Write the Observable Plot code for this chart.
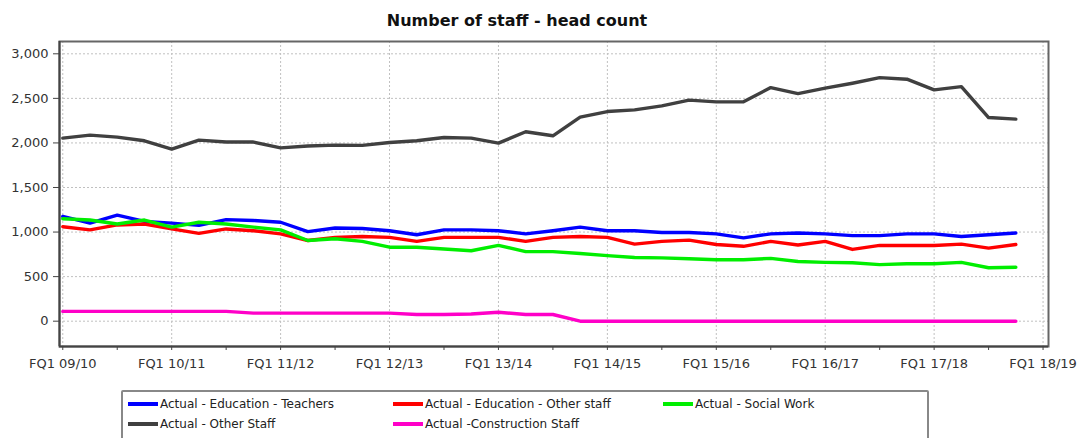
<!DOCTYPE html>
<html><head><meta charset="utf-8">
<script src="https://cdn.jsdelivr.net/npm/d3@7"></script>
<script src="https://cdn.jsdelivr.net/npm/@observablehq/plot@0.6"></script>
<style>
body{margin:0;background:#fff;font-family:"DejaVu Sans",sans-serif;}
#wrap{position:relative;width:1084px;height:438px;overflow:hidden;background:#fff;}
#title{position:absolute;top:11px;left:0;width:1034px;text-align:center;font-weight:bold;font-size:16px;color:#111;}
#chart{position:absolute;top:0;left:0;}
#legend{position:absolute;left:121px;top:390px;width:804px;height:60px;border:2px solid #888;border-radius:2px;}
.item{position:absolute;font-size:12px;color:#222;display:flex;align-items:center;white-space:nowrap;height:16px;}
.sw{width:30px;height:4px;margin-right:2px;}
</style></head><body>
<div id="wrap">
<div id="title">Number of staff - head count</div>
<div id="chart"></div>
<div id="legend"></div>
</div>
<script>
const years = ["09/10","10/11","11/12","12/13","13/14","14/15","15/16","16/17","17/18","18/19"];
const tickLabels = years.map(y => "FQ1 " + y);
const yTicks = [0, 500, 1000, 1500, 2000, 2500, 3000];

const seriesNames = [
  "Actual - Education - Teachers",
  "Actual - Education - Other staff",
  "Actual - Social Work",
  "Actual - Other Staff",
  "Actual -Construction Staff"
];
const seriesColors = ["#0000ff", "#ff0000", "#00ee00", "#404040", "#ff00c8"];

// quarterly values, FQ1 09/10 .. FQ4 17/18
const teachers = [1175,1100,1190,1120,1100,1075,1140,1130,1110,1005,1045,1040,1015,970,1025,1025,1015,980,1015,1055,1015,1015,995,995,980,935,980,990,980,960,960,980,980,950,970,990];
const eduOther = [1060,1025,1080,1090,1035,985,1035,1015,980,905,940,950,940,895,940,940,940,895,940,950,940,865,895,910,860,840,895,855,895,805,850,850,850,865,820,860];
const socialWork = [1150,1135,1090,1135,1055,1110,1090,1055,1025,905,925,895,830,830,810,790,850,780,780,760,735,715,710,700,690,690,705,670,660,655,635,645,645,660,600,605];
const otherStaff = [2054,2088,2065,2024,1930,2032,2010,2010,1945,1965,1975,1972,2005,2024,2061,2054,1998,2125,2080,2290,2352,2371,2416,2480,2461,2461,2621,2554,2614,2670,2733,2715,2595,2632,2285,2267];
const construction = [110,110,110,110,110,110,110,90,90,90,90,90,90,75,75,80,100,75,75,0,0,0,0,0,0,0,0,0,0,0,0,0,0,0,0,0];

const seriesValues = [teachers, eduOther, socialWork, otherStaff, construction];
const rows = seriesNames.flatMap((name, k) => seriesValues[k].map((v, i) => ({series: name, i, v})));

const majorTicks = tickLabels.map((_, k) => k * 4);
const minorTicks = years.slice(0, -1).map((_, k) => k * 4 + 2);

const chart = Plot.plot({
  width: 1084,
  height: 380,
  marginLeft: 59,
  marginRight: 36,
  marginTop: 41,
  marginBottom: 34,
  style: {fontFamily: "DejaVu Sans, sans-serif", fontSize: "13px", color: "#333", background: "transparent"},
  x: {type: "linear", domain: [-0.12, 36.2]},
  y: {type: "linear", domain: [-284, 3138]},
  color: {domain: seriesNames, range: seriesColors},
  marks: [
    Plot.gridY(yTicks, {stroke: "#c0c0c0", strokeOpacity: 1, strokeDasharray: "2,2"}),
    Plot.gridX(majorTicks, {stroke: "#c0c0c0", strokeOpacity: 1, strokeDasharray: "2,2"}),
    Plot.line(rows, {x: "i", y: "v", z: "series", stroke: "series", strokeWidth: 3.4, strokeLinejoin: "round"}),
    Plot.frame({stroke: "#666", strokeWidth: 2}),
    Plot.ruleX([-0.12], {stroke: "#444", strokeWidth: 2}),
    Plot.ruleY([-284], {stroke: "#444", strokeWidth: 2}),
    Plot.axisY(yTicks, {tickSize: 6, tickPadding: 5, tickFormat: d3.format(","), label: null, stroke: "#444"}),
    Plot.axisX(majorTicks, {tickSize: 4, tickPadding: 8, tickFormat: d => tickLabels[d / 4], label: null, stroke: "#444"}),
    Plot.axisX(minorTicks, {tickSize: 4, tickFormat: () => "", label: null, stroke: "#444"})
  ]
});
document.getElementById("chart").appendChild(chart);

const legend = document.getElementById("legend");
const legendPos = [[5, 4], [270, 4], [540, 4], [5, 24], [270, 24]];
seriesNames.forEach((name, k) => {
  const it = document.createElement("div");
  it.className = "item";
  it.style.left = legendPos[k][0] + "px";
  it.style.top = legendPos[k][1] + "px";
  const sw = document.createElement("span");
  sw.className = "sw";
  sw.style.background = seriesColors[k];
  it.appendChild(sw);
  it.appendChild(document.createTextNode(name));
  legend.appendChild(it);
});
</script>
</body></html>
